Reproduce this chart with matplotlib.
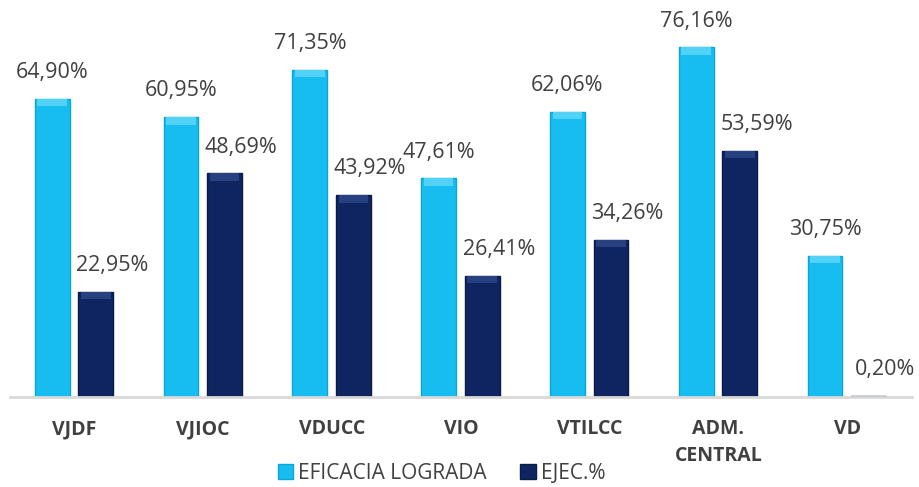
import numpy as np
import matplotlib.pyplot as plt

categorias = ['VJDF', 'VJIOC', 'VDUCC', 'VIO', 'VTILCC', 'ADM.\nCENTRAL', 'VD']
eficacia = [64.90, 60.95, 71.35, 47.61, 62.06, 76.16, 30.75]
ejecucion = [22.95, 48.69, 43.92, 26.41, 34.26, 53.59, 0.20]
series = ['EFICACIA LOGRADA', 'EJEC.%']

azul_claro = '#17bdf0'
azul_oscuro = '#0f2562'
gris = '#404040'

plt.rcParams['font.family'] = ['Open Sans', 'DejaVu Sans']

fig = plt.figure(figsize=(9.2, 4.87), dpi=100)
ax = fig.add_axes([0.0109, 0.185, 0.980, 0.815])

x = np.arange(len(categorias))
w = 0.27
b1 = ax.bar(x - 0.172, eficacia, w, color=azul_claro, edgecolor='#0aa6d8', linewidth=1, label=series[0])
b2 = ax.bar(x + 0.166, ejecucion, w, color=azul_oscuro, edgecolor='#0a1a48', linewidth=1, label=series[1])

# brillo superior de las barras (efecto bisel)
cap = 1.6
ax.bar(x - 0.172, [min(cap, v) for v in eficacia], w * 0.85,
       bottom=[v - min(cap, v) for v in eficacia], color='#52d2f7', linewidth=0)
ax.bar(x + 0.166, [min(cap, v) for v in ejecucion], w * 0.85,
       bottom=[v - min(cap, v) for v in ejecucion], color='#27407f', linewidth=0)


def fmt(v):
    return f'{v:.2f}%'.replace('.', ',')


for rect, v in zip(b1, eficacia):
    ax.annotate(fmt(v), (rect.get_x() + rect.get_width() / 2, v), xytext=(0, 19),
                textcoords='offset points', ha='center', va='center', fontsize=15.5, color=gris)
for rect, v in zip(b2, ejecucion):
    ax.annotate(fmt(v), (rect.get_x() + rect.get_width() / 2, v), xytext=(12, 19),
                textcoords='offset points', ha='center', va='center', fontsize=15.5, color=gris)

ax.set_xlim(-0.5, len(categorias) - 0.5)
ax.set_ylim(0, 86.5)
ax.set_yticks([])
ax.set_xticks(x)
ax.set_xticklabels(categorias, fontsize=14, fontweight='bold', color=gris, va='top',
                   linespacing=1.45)
ax.tick_params(axis='x', length=0, pad=16)
for s in ['top', 'right', 'left']:
    ax.spines[s].set_visible(False)
ax.spines['bottom'].set_color('#d9d9d9')
ax.spines['bottom'].set_linewidth(2)

leg = fig.legend(handles=[b1, b2], loc='center', bbox_to_anchor=(0.48, 0.028), ncol=2,
                 frameon=False, fontsize=15, handlelength=0.75, handleheight=0.75,
                 handletextpad=0.25, columnspacing=1.6, borderpad=0)
for t in leg.get_texts():
    t.set_color(gris)

fig.savefig('out.png', dpi=100)
